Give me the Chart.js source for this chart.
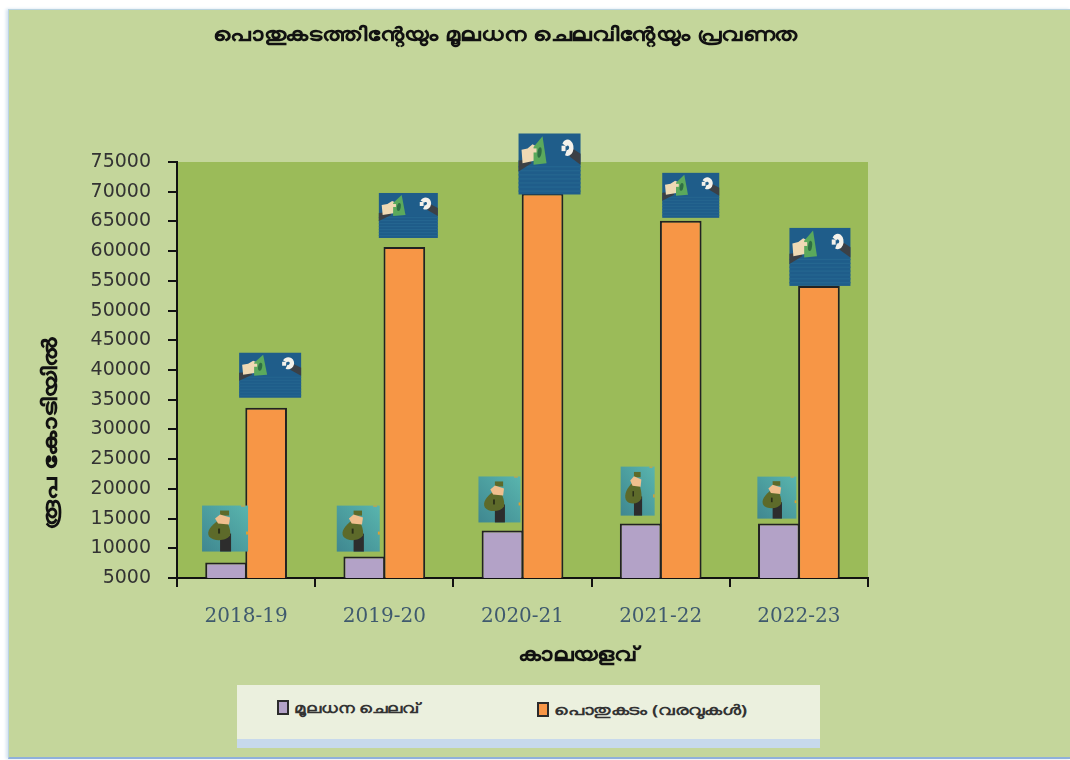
<!DOCTYPE html>
<html>
<head>
<meta charset="utf-8">
<script src="https://cdn.jsdelivr.net/npm/chart.js@4"></script>
<style>
  html, body { margin: 0; padding: 0; background: #fff; overflow: hidden; }
  #panel {
    position: absolute; left: 8px; top: 9px; width: 1062px; height: 747px;
    background: #c4d69b;
    border-top: 1px solid #b9d3e0; border-left: 1px solid #b9d3e0; border-bottom: 2px solid #8fb0da;
    box-shadow: -2px 0 3px #d5e3ef;
  }
  #legendBox {
    position: absolute; left: 237px; top: 685px; width: 583px; height: 54px;
    background: #ebf0de; border-bottom: 9px solid #c7d9ec;
  }
  .item {
    position: absolute; display: flex; align-items: center;
    font: bold 14px "Noto Sans", "DejaVu Sans", sans-serif; color: #333; white-space: nowrap;
    transform-origin: left center;
  }
  .swatch { width: 8px; height: 11px; border: 2px solid #2b2b2b; margin-right: 5px; }
  canvas { position: absolute; left: 0; top: 0; }
</style>
</head>
<body>
<div id="panel"></div>
<div id="legendBox"></div>
<canvas id="chart" width="1070" height="760"></canvas>
<script>
const years = ['2018-19', '2019-20', '2020-21', '2021-22', '2022-23'];
const capitalSpend = [7600, 8600, 13000, 14150, 14150];
const publicDebt = [33650, 60700, 69700, 65100, 54150];
const capitalLabel = 'മൂലധന ചെലവ്';
const debtLabel = 'പൊതുകടം (വരവുകൾ)';
const chartTitle = 'പൊതുകടത്തിന്റേയും മൂലധന ചെലവിന്റേയും പ്രവണത';
const yTitle = 'രൂപ കോടിയിൽ';
const xTitle = 'കാലയളവ്';

// picture sizes above the bars: [width, height, shift from bar centre, gap over bar top]
const bagPics = [[46, 46, -1, 11], [43, 46, -6, 5], [42, 46, -3, 8], [34, 49, -3, 8], [39, 42, -2, 5]];
const cashPics = [[62, 45, 4, 10], [59, 45, 4, 9], [62, 61, 7, -1], [57, 45, 10, 3], [61, 58, 1, 0]];

function drawCash(ctx, x, y, w, h) {
  ctx.save();
  ctx.translate(x, y);
  ctx.scale(w / 62, h / 45);
  ctx.fillStyle = '#1f5d8a';
  ctx.fillRect(0, 0, 62, 45);
  ctx.fillStyle = '#256690';
  for (let r = 24; r < 44; r += 3) ctx.fillRect(0, r, 62, 1);
  // left sleeve and hand
  ctx.fillStyle = '#3b4046';
  ctx.beginPath(); ctx.moveTo(0, 20); ctx.lineTo(12, 19); ctx.lineTo(13, 22); ctx.lineTo(0, 28); ctx.fill();
  ctx.fillStyle = '#efd9b4';
  ctx.beginPath(); ctx.moveTo(3, 12); ctx.lineTo(9, 11); ctx.lineTo(14, 8); ctx.lineTo(19, 10); ctx.lineTo(17, 20); ctx.lineTo(4, 22); ctx.fill();
  // bank note
  ctx.fillStyle = '#5ba95c';
  ctx.beginPath(); ctx.moveTo(15, 10); ctx.lineTo(24, 2); ctx.lineTo(28, 22); ctx.lineTo(15, 23); ctx.fill();
  ctx.fillStyle = '#2f6f45';
  ctx.beginPath(); ctx.ellipse(21, 14, 2, 4, 0.2, 0, Math.PI * 2); ctx.fill();
  ctx.fillStyle = '#efd9b4';
  ctx.fillRect(14, 11, 4, 3);
  // right hand and sleeve
  ctx.fillStyle = '#3b4046';
  ctx.beginPath(); ctx.moveTo(54, 11); ctx.lineTo(62, 15); ctx.lineTo(62, 23); ctx.lineTo(51, 17); ctx.fill();
  ctx.strokeStyle = '#f4f1ea';
  ctx.lineWidth = 4.4;
  ctx.beginPath(); ctx.arc(49, 10.5, 3.8, -2.6, 2.0); ctx.stroke();
  ctx.fillStyle = '#f4f1ea';
  ctx.fillRect(43, 9, 4, 4);
  ctx.restore();
}

function drawBag(ctx, x, y, w, h) {
  ctx.save();
  ctx.translate(x, y);
  ctx.scale(w / 46, h / 46);
  const grad = ctx.createLinearGradient(0, 46, 46, 0);
  grad.addColorStop(0, '#3f8790');
  grad.addColorStop(1, '#59b5ae');
  ctx.fillStyle = grad;
  ctx.fillRect(0, 0, 46, 46);
  ctx.fillStyle = '#2d2d2d';
  ctx.fillRect(18, 28, 11, 18);
  // bag
  ctx.fillStyle = '#5d6a2a';
  ctx.beginPath();
  ctx.moveTo(16, 15);
  ctx.bezierCurveTo(9, 20, 4, 26, 7, 31);
  ctx.bezierCurveTo(11, 36, 24, 36, 28, 30);
  ctx.bezierCurveTo(29, 24, 26, 18, 24, 15);
  ctx.fill();
  ctx.fillRect(18, 5, 9, 5);
  ctx.fillStyle = '#2a2f18';
  ctx.fillRect(16, 23, 2, 5);
  // hand
  ctx.fillStyle = '#f0bf8e';
  ctx.beginPath(); ctx.moveTo(13, 13); ctx.lineTo(18, 9); ctx.lineTo(28, 12); ctx.lineTo(27, 19); ctx.lineTo(16, 18); ctx.fill();
  // coins
  ctx.fillStyle = '#e0a030';
  ctx.fillRect(39, 0, 4, 1);
  ctx.fillRect(44, 26, 2, 3);
  ctx.restore();
}

// stretch a text to the width it has in the picture
function wideText(ctx, text, x, y, width, angle) {
  ctx.save();
  ctx.translate(x, y);
  if (angle) ctx.rotate(angle);
  ctx.scale(width / ctx.measureText(text).width, 1);
  ctx.fillText(text, 0, 0);
  ctx.restore();
}

// plot background, bar pictures and the off-centre texts
const extras = {
  id: 'extras',
  beforeDraw(chart) {
    const { ctx, chartArea: a } = chart;
    ctx.fillStyle = '#9bbb59';
    ctx.fillRect(a.left, a.top, a.right - a.left, a.bottom - a.top);
  },
  afterDatasetsDraw(chart) {
    const ctx = chart.ctx;
    chart.getDatasetMeta(0).data.forEach((bar, i) => {
      const [w, h, dx, gap] = bagPics[i];
      drawBag(ctx, bar.x + dx - w / 2, bar.y - gap - h, w, h);
    });
    chart.getDatasetMeta(1).data.forEach((bar, i) => {
      const [w, h, dx, gap] = cashPics[i];
      drawCash(ctx, bar.x + dx - w / 2, bar.y - gap - h, w, h);
    });
  },
  afterDraw(chart) {
    const ctx = chart.ctx;
    ctx.save();
    ctx.fillStyle = '#111';
    ctx.textAlign = 'center';
    ctx.textBaseline = 'middle';
    ctx.font = 'bold 19px "Noto Sans", "DejaVu Sans", sans-serif';
    wideText(ctx, chartTitle, 505, 36, 585);
    ctx.font = 'bold 20px "Noto Sans", "DejaVu Sans", sans-serif';
    wideText(ctx, xTitle, 578, 655, 121);
    wideText(ctx, yTitle, 51, 434, 192, -Math.PI / 2);
    ctx.restore();
  }
};

new Chart(document.getElementById('chart'), {
  type: 'bar',
  data: {
    labels: years,
    datasets: [
      { label: capitalLabel, data: capitalSpend, backgroundColor: '#b3a2c7', borderColor: '#222', borderWidth: 2, categoryPercentage: 0.58, barPercentage: 1.04 },
      { label: debtLabel, data: publicDebt, backgroundColor: '#f79646', borderColor: '#222', borderWidth: 2, categoryPercentage: 0.58, barPercentage: 1.04 }
    ]
  },
  options: {
    responsive: false,
    animation: false,
    layout: { padding: { top: 162, right: 202, left: 0, bottom: 0 } },
    plugins: { legend: { display: false }, title: { display: false }, tooltip: { enabled: false } },
    scales: {
      x: {
        afterFit: s => { s.height = 182; },
        border: { color: '#111', width: 2 },
        grid: { drawOnChartArea: false, color: '#111', lineWidth: 2, tickLength: 9 },
        ticks: { color: '#3f5a6e', padding: 18, maxRotation: 0, autoSkip: false, font: { family: '"DejaVu Serif"', size: 20 } }
      },
      y: {
        min: 5000,
        max: 75000,
        afterFit: s => { s.width = 177; },
        border: { color: '#111', width: 2 },
        grid: { drawOnChartArea: false, color: '#111', lineWidth: 2, tickLength: 9 },
        ticks: { stepSize: 5000, color: '#333', padding: 17, autoSkip: false, callback: v => String(v), font: { family: '"DejaVu Sans"', size: 19 } }
      }
    }
  },
  plugins: [extras]
});

// legend sits in its own pale box under the chart
const legendBox = document.getElementById('legendBox');
[[capitalLabel, '#b3a2c7', 40, 13, 1.28], [debtLabel, '#f79646', 300, 15, 1.35]].forEach(([text, color, left, top, spread]) => {
  const item = document.createElement('div');
  item.className = 'item';
  item.style.left = left + 'px';
  item.style.top = top + 'px';
  const swatch = document.createElement('span');
  swatch.className = 'swatch';
  swatch.style.background = color;
  const label = document.createElement('span');
  label.textContent = text;
  label.style.display = 'inline-block';
  label.style.transformOrigin = 'left center';
  label.style.transform = 'scaleX(' + spread + ')';
  item.appendChild(swatch);
  item.appendChild(label);
  legendBox.appendChild(item);
});
</script>
</body>
</html>
